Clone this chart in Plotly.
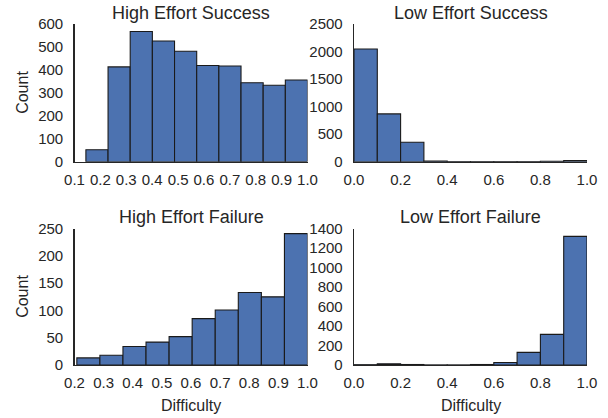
import plotly.graph_objects as go

# ---- data ----
titles = ["High Effort Success", "Low Effort Success", "High Effort Failure", "Low Effort Failure"]
hes_counts = [52, 413, 567, 526, 481, 419, 417, 344, 333, 356]
hes_bin_start, hes_bin_width = 0.144, 0.0856
les_counts = [2045, 868, 352, 12, 3, 2, 2, 4, 8, 22]
les_bin_start, les_bin_width = 0.0, 0.1
hef_counts = [13, 18, 34, 42, 52, 85, 101, 133, 125, 241]
hef_bin_start, hef_bin_width = 0.208, 0.0792
lef_counts = [3, 12, 5, 1, 1, 5, 25, 130, 315, 1321]
lef_bin_start, lef_bin_width = 0.0, 0.1

panels = [
    (hes_counts, hes_bin_start, hes_bin_width, [0.1, 1.0], 0.1, 0.1, [0, 600], 100),
    (les_counts, les_bin_start, les_bin_width, [0.0, 1.0], 0.0, 0.2, [0, 2500], 500),
    (hef_counts, hef_bin_start, hef_bin_width, [0.2, 1.0], 0.2, 0.1, [0, 250], 50),
    (lef_counts, lef_bin_start, lef_bin_width, [0.0, 1.0], 0.0, 0.2, [0, 1400], 200),
]

W, H = 608, 418
xdoms = [[74.5 / W, 307.5 / W], [354 / W, 587 / W]]
ydoms = [[1 - 161.7 / H, 1 - 24 / H], [1 - 365 / H, 1 - 228.7 / H]]

BLUE = "#4c72b0"
TXT = "#262626"
FONT = "Liberation Sans, Arial, sans-serif"

fig = go.Figure()
layout = dict(
    width=W, height=H, autosize=False, margin=dict(l=0, r=0, t=0, b=0, pad=0),
    paper_bgcolor="white", plot_bgcolor="white", showlegend=False,
    font=dict(family=FONT, color=TXT, size=15), bargap=0,
)
annotations = []
for i, (counts, start, bw, xr, t0, dt, yr, ydt) in enumerate(panels):
    row, col = divmod(i, 2)
    n = i + 1
    xa = "x" if n == 1 else f"x{n}"
    ya = "y" if n == 1 else f"y{n}"
    centers = [start + bw * (k + 0.5) for k in range(len(counts))]
    fig.add_trace(go.Bar(
        x=centers, y=counts, width=[bw] * len(counts),
        marker=dict(color=BLUE, line=dict(color="#1a1a1a", width=1.1)),
        xaxis=xa, yaxis=ya, hoverinfo="skip",
    ))
    xkey = "xaxis" if n == 1 else f"xaxis{n}"
    ykey = "yaxis" if n == 1 else f"yaxis{n}"
    layout[xkey] = dict(
        domain=xdoms[col], anchor=ya, range=xr, tick0=t0, dtick=dt,
        tickformat=".1f", showgrid=False, zeroline=False, automargin=False,
        showline=True, linecolor=TXT, linewidth=1.3,
        ticks="", ticklabelstandoff=4, tickfont=dict(size=15, color=TXT),
    )
    layout[ykey] = dict(
        domain=ydoms[row], anchor=xa, range=yr, dtick=ydt,
        showgrid=False, zeroline=False, automargin=False,
        showline=True, linecolor=TXT, linewidth=1.3,
        ticks="", ticklabelstandoff=7, tickfont=dict(size=15, color=TXT),
    )
    cx = (xdoms[col][0] + xdoms[col][1]) / 2
    ty = 1 - (13 if row == 0 else 217) / H
    annotations.append(dict(
        text=titles[i], x=cx, y=ty, xref="paper", yref="paper",
        xanchor="center", yanchor="middle", showarrow=False,
        font=dict(size=18, color=TXT, family=FONT),
    ))

for row in range(2):
    cy = (ydoms[row][0] + ydoms[row][1]) / 2
    annotations.append(dict(
        text="Count", x=23 / W, y=cy, xref="paper", yref="paper",
        xanchor="center", yanchor="middle", textangle=-90, showarrow=False,
        font=dict(size=16, color=TXT, family=FONT),
    ))
for col in range(2):
    cx = (xdoms[col][0] + xdoms[col][1]) / 2
    annotations.append(dict(
        text="Difficulty", x=cx, y=1 - 405 / H, xref="paper", yref="paper",
        xanchor="center", yanchor="middle", showarrow=False,
        font=dict(size=16, color=TXT, family=FONT),
    ))

layout["annotations"] = annotations
fig.update_layout(**layout)
fig.write_html(
    "out.html",
    config={"displayModeBar": False, "staticPlot": True},
    post_script="document.body.style.margin='0px';document.body.style.padding='0px';document.body.style.overflow='hidden';",
)
